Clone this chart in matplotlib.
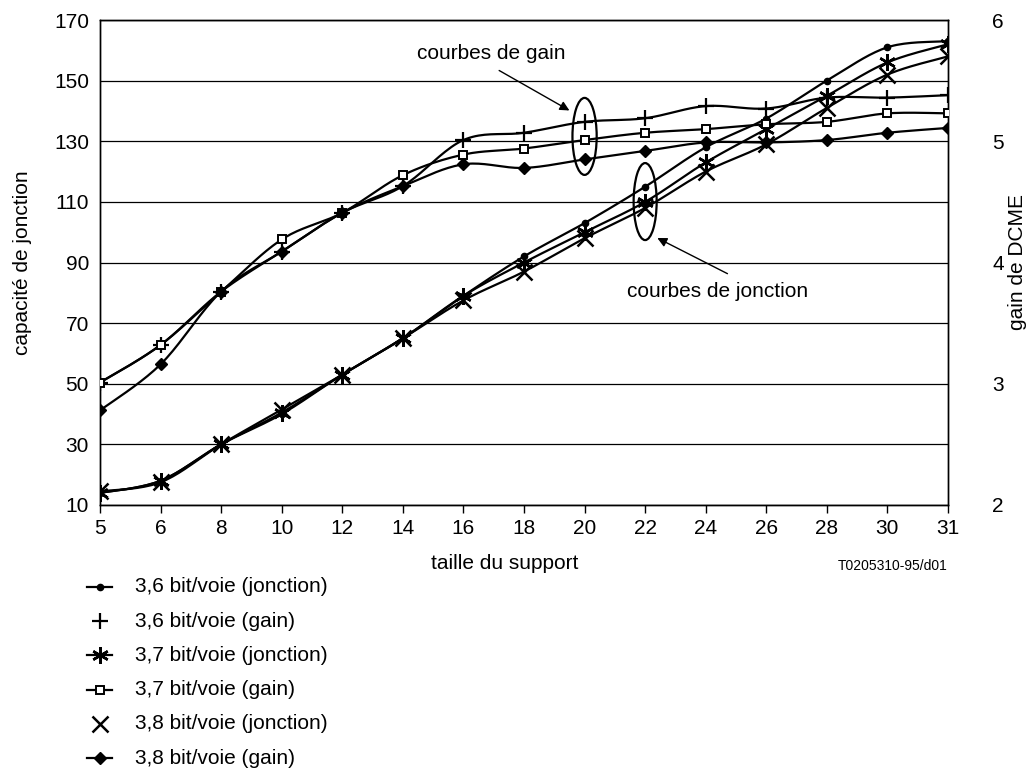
import numpy as np
import matplotlib
matplotlib.use("Agg")
import matplotlib.pyplot as plt
from matplotlib.lines import Line2D
from matplotlib.patches import Ellipse

plt.rcParams['font.family'] = ['Liberation Sans', 'DejaVu Sans']

# ---- data ----
categories = ["5", "6", "8", "10", "12", "14", "16", "18", "20", "22", "24", "26", "28", "30", "31"]

junction_36 = [14, 18, 30, 40, 53, 65, 79, 92, 103, 115, 128, 137.5, 150, 161, 163]
junction_37 = [14, 18, 30, 40.5, 53, 65, 79, 90, 100, 110, 123, 134, 145, 156, 162]
junction_38 = [14.5, 17.5, 30, 41.5, 53, 65, 77.5, 87, 98, 108, 120, 129, 141, 152, 158]

gain_36 = [3.01, 3.32, 3.76, 4.09, 4.41, 4.63, 5.01, 5.07, 5.16, 5.19, 5.29, 5.27, 5.36, 5.36, 5.38]
gain_37 = [3.01, 3.32, 3.76, 4.19, 4.41, 4.72, 4.89, 4.94, 5.01, 5.07, 5.10, 5.14, 5.16, 5.23, 5.23]
gain_38 = [2.78, 3.16, 3.76, 4.09, 4.41, 4.63, 4.81, 4.78, 4.85, 4.92, 4.99, 4.99, 5.01, 5.07, 5.11]

left_ticks = [10, 30, 50, 70, 90, 110, 130, 150, 170]
right_ticks = [2, 3, 4, 5, 6]

labels = ["3,6 bit/voie (jonction)", "3,6 bit/voie (gain)", "3,7 bit/voie (jonction)",
          "3,7 bit/voie (gain)", "3,8 bit/voie (jonction)", "3,8 bit/voie (gain)"]


def smooth(x, y, n=20):
    """Catmull-Rom curve through the data points (for line rendering only)."""
    x = np.asarray(x, float)
    y = np.asarray(y, float)
    P = np.column_stack([x, y])
    P = np.vstack([P[0], P, P[-1]])
    out = []
    for i in range(1, len(P) - 2):
        p0, p1, p2, p3 = P[i - 1], P[i], P[i + 1], P[i + 2]
        t = np.linspace(0, 1, n, endpoint=False)[:, None]
        pt = 0.5 * ((2 * p1) + (-p0 + p2) * t + (2 * p0 - 5 * p1 + 4 * p2 - p3) * t ** 2
                    + (-p0 + 3 * p1 - 3 * p2 + p3) * t ** 3)
        out.append(pt)
    out.append(P[-2][None, :])
    out = np.vstack(out)
    return out[:, 0], out[:, 1]


W, H = 1026, 772
fig = plt.figure(figsize=(W / 100, H / 100), dpi=100)
L, R, T, B = 100, 948, 20, 505
ax = fig.add_axes([L / W, 1 - B / H, (R - L) / W, (B - T) / H])
ax2 = ax.twinx()

xs = np.arange(len(categories))
FS = 15
lw = 1.6

styles = {
    "j36": dict(marker='o', ms=4.5, mfc='black', mec='black', mew=1),
    "g36": dict(marker='+', ms=12, mfc='black', mec='black', mew=1.6),
    "j37": dict(marker=(6, 2, 0), ms=12, mfc='black', mec='black', mew=1.8),
    "g37": dict(marker='s', ms=5.5, mfc='white', mec='black', mew=1.4),
    "j38": dict(marker='x', ms=11, mfc='black', mec='black', mew=1.8),
    "g38": dict(marker='D', ms=6, mfc='black', mec='black', mew=1),
}

for vals, key in [(junction_36, "j36"), (junction_37, "j37"), (junction_38, "j38")]:
    sx, sy = smooth(xs, vals)
    ax.plot(sx, sy, color='black', lw=lw, zorder=3)
    ax.plot(xs, vals, ls='none', zorder=4, **styles[key])

for vals, key in [(gain_36, "g36"), (gain_37, "g37"), (gain_38, "g38")]:
    sx, sy = smooth(xs, vals)
    ax2.plot(sx, sy, color='black', lw=lw, zorder=3)
    ax2.plot(xs, vals, ls='none', zorder=4, **styles[key])

ax.set_xlim(0, len(categories) - 1)
ax.set_ylim(10, 170)
ax2.set_ylim(2, 6)
ax.set_yticks(left_ticks)
ax2.set_yticks(right_ticks)
ax.set_xticks(xs)
ax.set_xticklabels(categories)

for yv in left_ticks:
    ax.axhline(yv, color='black', lw=0.9, zorder=1)

for a in (ax, ax2):
    for s in a.spines.values():
        s.set_color('black')
        s.set_linewidth(1.0)
ax.tick_params(axis='x', direction='out', length=6, width=1, labelsize=FS, pad=4)
ax.tick_params(axis='y', length=0, labelsize=FS, pad=8)
ax2.tick_params(axis='y', length=0, labelsize=FS, pad=32)

ax.set_ylabel("capacité de jonction", fontsize=FS)
ax.yaxis.set_label_coords((32 - L) / (R - L), 0.5)
ax2.set_ylabel("gain de DCME", fontsize=FS, rotation=90)
ax2.yaxis.set_label_coords((1008 - L) / (R - L), 0.5)
ax.set_xlabel("taille du support", fontsize=FS)
ax.xaxis.set_label_coords((505 - L) / (R - L), (B - 554) / (B - T))

fig.text(948 / W, 1 - 566 / H, "T0205310-95/d01", fontsize=10, ha='right', va='center')

# annotations (left-axis data coordinates)
ax.add_patch(Ellipse((8, 131.6), 0.40, 25.4, fill=False, ec='black', lw=1.6, zorder=5))
ax.add_patch(Ellipse((9, 110.1), 0.38, 25.4, fill=False, ec='black', lw=1.6, zorder=5))
ax.text(5.23, 159.1, "courbes de gain", fontsize=FS, ha='left', va='center')
ax.annotate("", xy=(7.79, 139.7), xytext=(6.55, 153.8),
            arrowprops=dict(arrowstyle='-|>', color='black', lw=1.0, mutation_scale=14))
ax.text(8.70, 80.4, "courbes de jonction", fontsize=FS, ha='left', va='center')
ax.annotate("", xy=(9.16, 98.5), xytext=(10.40, 85.9),
            arrowprops=dict(arrowstyle='-|>', color='black', lw=1.0, mutation_scale=14))

# legend
keys = ["j36", "g36", "j37", "g37", "j38", "g38"]
show_line = [True, False, True, True, False, True]
for i, (k, lab, sl) in enumerate(zip(keys, labels, show_line)):
    yp = 1 - (587 + 34.2 * i) / H
    if sl:
        fig.add_artist(Line2D([87 / W, 112 / W], [yp, yp], color='black', lw=lw,
                              transform=fig.transFigure))
    st = dict(styles[k])
    fig.add_artist(Line2D([100 / W], [yp], ls='none', transform=fig.transFigure, **st))
    fig.text(135 / W, yp, lab, fontsize=FS, ha='left', va='center')

fig.savefig("out.png", dpi=100)
